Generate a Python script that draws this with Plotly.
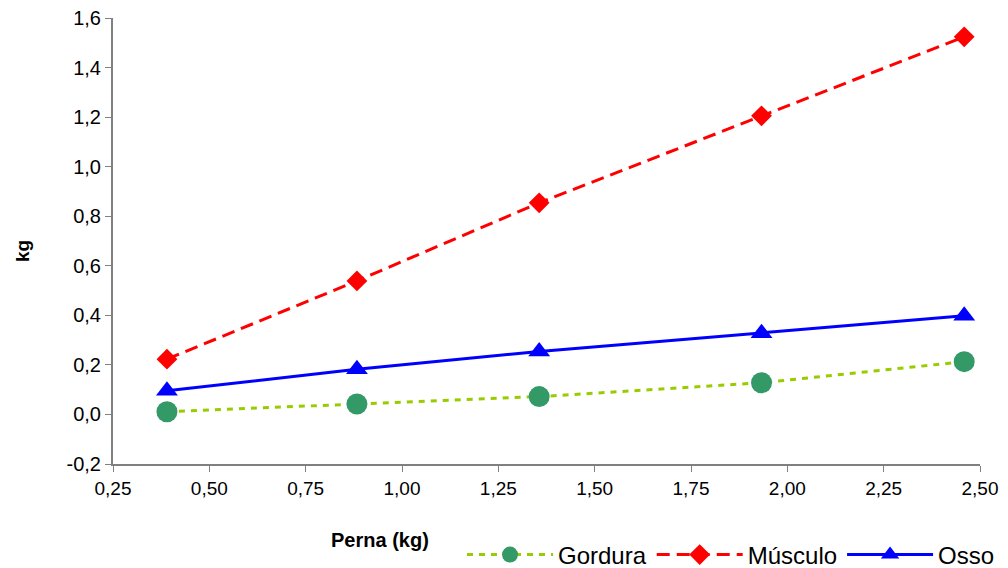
import plotly.graph_objects as go

perna = [0.390, 0.883, 1.356, 1.933, 2.459]
gordura = [0.011, 0.042, 0.072, 0.128, 0.213]
musculo = [0.223, 0.539, 0.854, 1.205, 1.524]
osso = [0.096, 0.182, 0.254, 0.328, 0.398]

x_ticks = [0.25, 0.50, 0.75, 1.00, 1.25, 1.50, 1.75, 2.00, 2.25, 2.50]
x_labels = ["0,25", "0,50", "0,75", "1,00", "1,25", "1,50", "1,75", "2,00", "2,25", "2,50"]
y_ticks = [-0.2, 0.0, 0.2, 0.4, 0.6, 0.8, 1.0, 1.2, 1.4, 1.6]
y_labels = ["-0,2", "0,0", "0,2", "0,4", "0,6", "0,8", "1,0", "1,2", "1,4", "1,6"]

FONT = "Liberation Sans, Arial"
L, R, T, B = 113, 28, 18, 104
PW, PH = 1008 - L - R, 568 - T - B

fig = go.Figure()
fig.add_trace(go.Scatter(
    x=perna, y=gordura, name="Gordura", mode="lines+markers",
    line=dict(color="#99CC00", width=3, dash="6px,6px"),
    marker=dict(symbol="circle", size=21, color="#339966"),
))
fig.add_trace(go.Scatter(
    x=perna, y=musculo, name="Músculo", mode="lines+markers",
    line=dict(color="#FF0000", width=3, dash="13px,7px"),
    marker=dict(symbol="diamond", size=16, color="#FF0000"),
))
fig.add_trace(go.Scatter(
    x=perna, y=osso, name="Osso", mode="lines+markers",
    line=dict(color="#0000FF", width=3),
    marker=dict(symbol="triangle-up", size=19, color="#0000FF"),
))

axis_common = dict(
    showgrid=False, zeroline=False, showline=True, linecolor="#808080", linewidth=2,
    ticks="outside", ticklen=6, tickcolor="#808080", tickwidth=1, automargin=False,
)
fig.update_xaxes(range=[0.25, 2.5], tickvals=x_ticks, ticktext=x_labels,
                 tickfont=dict(family=FONT, size=19, color="black"), **axis_common)
fig.update_yaxes(range=[-0.2, 1.6], tickvals=y_ticks, ticktext=y_labels,
                 tickfont=dict(family=FONT, size=20, color="black"), **axis_common)

fig.add_annotation(text="<b>kg</b>", xref="paper", yref="paper", x=(22 - L) / PW, y=(464 - 251) / PH,
                   xanchor="center", yanchor="middle",
                   textangle=-90, showarrow=False, font=dict(family=FONT, size=19, color="black"))
fig.add_annotation(text="<b>Perna (kg)</b>", xref="paper", yref="paper", x=(380 - L) / PW, y=(464 - 540) / PH,
                   xanchor="center", yanchor="middle",
                   showarrow=False, font=dict(family=FONT, size=20, color="black"))

fig.update_layout(
    width=1008, height=568,
    margin=dict(l=L, r=R, t=T, b=B, autoexpand=False),
    plot_bgcolor="white", paper_bgcolor="white",
    showlegend=True,
    legend=dict(orientation="h", x=(1000 - L) / PW, xanchor="right", y=(464 - 555) / PH, yanchor="middle",
                font=dict(family=FONT, size=24, color="black"),
                itemwidth=86, tracegroupgap=0, bgcolor="rgba(0,0,0,0)"),
)

fig.write_html("out.html", config={"displayModeBar": False},
               post_script="document.body.style.margin='0';document.body.style.overflow='hidden';")
